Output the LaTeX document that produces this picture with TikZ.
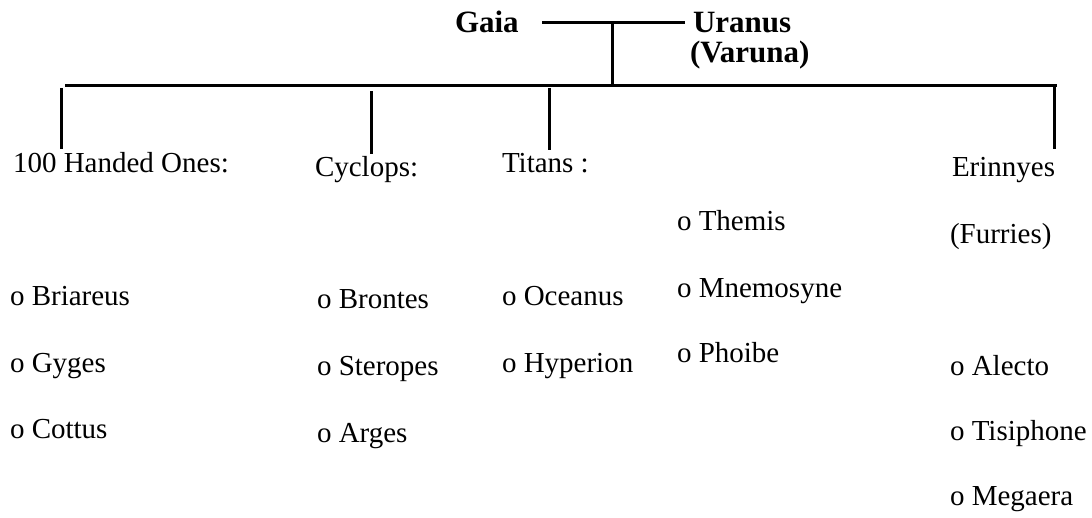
\documentclass[tikz,border=0pt]{standalone}
\usepackage{fontspec}
\setmainfont{Liberation Serif}
\begin{document}
\begin{tikzpicture}[x=1pt,y=-1pt,
  lbl/.style={anchor=base west,inner sep=0pt,outer sep=0pt,font=\fontsize{29}{29}\selectfont},
  blbl/.style={anchor=base west,inner sep=0pt,outer sep=0pt,font=\fontsize{31}{31}\selectfont\bfseries},
  conn/.style={line width=3pt}]
\useasboundingbox (0,0) rectangle (1092,517);
% parents
\node[blbl] (gaia) at (455,32) {Gaia};
\node[blbl] (uranus) at (693,32) {Uranus};
\node[blbl] (varuna) at (690,62) {(Varuna)};
% headers
\node[lbl] (hundred) at (13,172) {100 Handed Ones:};
\node[lbl] (cyclops) at (315,176) {Cyclops:};
\node[lbl] (titans) at (502,172) {Titans :};
\node[lbl] (erinnyes) at (952,176) {Erinnyes};
\node[lbl] (furries) at (950,243) {(Furries)};
% members
\node[lbl] (briareus) at (10,305) {o Briareus};
\node[lbl] (gyges) at (10,372) {o Gyges};
\node[lbl] (cottus) at (10,438) {o Cottus};
\node[lbl] (brontes) at (317,308) {o Brontes};
\node[lbl] (steropes) at (317,375) {o Steropes};
\node[lbl] (arges) at (317,442) {o Arges};
\node[lbl] (oceanus) at (502,305) {o Oceanus};
\node[lbl] (hyperion) at (502,372) {o Hyperion};
\node[lbl] (themis) at (677,230) {o Themis};
\node[lbl] (mnemosyne) at (677,297) {o Mnemosyne};
\node[lbl] (phoibe) at (677,362) {o Phoibe};
\node[lbl] (alecto) at (950,375) {o Alecto};
\node[lbl] (tisiphone) at (950,440) {o Tisiphone};
\node[lbl] (megaera) at (950,505) {o Megaera};
% junction coordinates
\coordinate (gl) at (542,22);
\coordinate (gr) at (685,22);
\coordinate (gm) at (612,22);
\coordinate (bm) at (612,85);
\coordinate (bl) at (65,85);
\coordinate (br) at (1057,85);
\coordinate (h1) at (61,88);   \coordinate (h1e) at (61,149);
\coordinate (c1) at (371,91);  \coordinate (c1e) at (371,154);
\coordinate (t1) at (549,88);  \coordinate (t1e) at (549,150);
\coordinate (e1) at (1054,85); \coordinate (e1e) at (1054,149);
% connectors
\draw[conn] (gl) -- (gr);
\draw[conn] (gm) -- (bm);
\draw[conn] (bl) -- (br);
\draw[conn] (h1) -- (h1e);
\draw[conn] (c1) -- (c1e);
\draw[conn] (t1) -- (t1e);
\draw[conn] (e1) -- (e1e);
\end{tikzpicture}
\end{document}
